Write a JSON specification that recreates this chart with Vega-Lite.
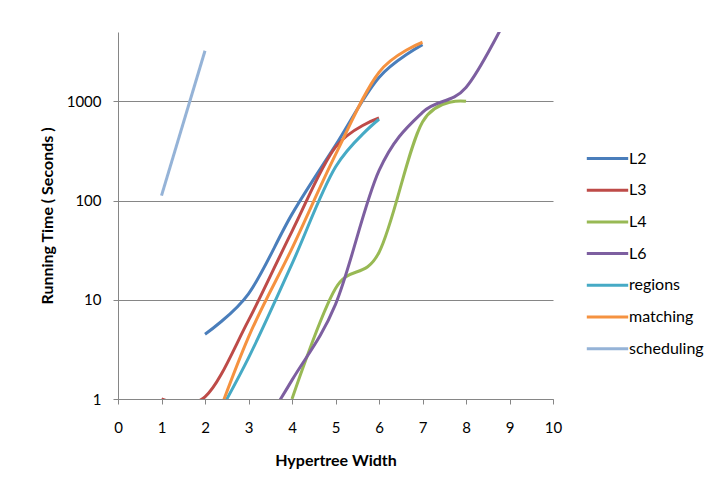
{
  "$schema": "https://vega.github.io/schema/vega-lite/v6.json",
  "autosize": {"type": "none"},
  "padding": {"left": 118, "top": 32, "right": 162, "bottom": 87},
  "width": 435,
  "height": 367,
  "background": "white",
  "config": {
    "font": "Lato",
    "view": {"stroke": null},
    "axis": {"labelFont": "Lato", "titleFont": "Lato", "labelColor": "#000000", "titleColor": "#000000", "labelFlush": false}
  },
  "data": {
    "values": [
      {"series": "L2", "width": 2, "time": 4.5},
      {"series": "L2", "width": 3, "time": 11.5},
      {"series": "L2", "width": 4, "time": 73},
      {"series": "L2", "width": 5, "time": 360},
      {"series": "L2", "width": 6, "time": 1740},
      {"series": "L2", "width": 7, "time": 3730},
      {"series": "L3", "width": 1, "time": 1},
      {"series": "L3", "width": 2, "time": 1.05},
      {"series": "L3", "width": 3, "time": 6.2},
      {"series": "L3", "width": 4, "time": 49},
      {"series": "L3", "width": 5, "time": 345},
      {"series": "L3", "width": 6, "time": 680},
      {"series": "L4", "width": 4, "time": 1},
      {"series": "L4", "width": 5, "time": 13},
      {"series": "L4", "width": 6, "time": 30},
      {"series": "L4", "width": 7, "time": 620},
      {"series": "L4", "width": 8, "time": 1000},
      {"series": "L6", "width": 3, "time": 0.3},
      {"series": "L6", "width": 4, "time": 1.55},
      {"series": "L6", "width": 5, "time": 9},
      {"series": "L6", "width": 6, "time": 200},
      {"series": "L6", "width": 7, "time": 775},
      {"series": "L6", "width": 8, "time": 1380},
      {"series": "L6", "width": 9, "time": 8000},
      {"series": "regions", "width": 2, "time": 0.4},
      {"series": "regions", "width": 3, "time": 2.6},
      {"series": "regions", "width": 4, "time": 23},
      {"series": "regions", "width": 5, "time": 218},
      {"series": "regions", "width": 6, "time": 660},
      {"series": "matching", "width": 2, "time": 0.3},
      {"series": "matching", "width": 3, "time": 4.2},
      {"series": "matching", "width": 4, "time": 33},
      {"series": "matching", "width": 5, "time": 290},
      {"series": "matching", "width": 6, "time": 1960},
      {"series": "matching", "width": 7, "time": 3940},
      {"series": "scheduling", "width": 1, "time": 112},
      {"series": "scheduling", "width": 2, "time": 3240}
    ]
  },
  "mark": {"type": "line", "interpolate": "cardinal", "tension": 0, "strokeWidth": 3, "clip": true},
  "encoding": {
    "x": {
      "field": "width", "type": "quantitative",
      "scale": {"domain": [0, 10], "nice": false, "zero": false},
      "axis": {
        "title": "Hypertree Width", "values": [0,1,2,3,4,5,6,7,8,9,10],
        "grid": false, "domainColor": "#868686", "tickColor": "#868686", "tickSize": 5,
        "labelFontSize": 15, "labelPadding": 16, "titleFontSize": 16, "titleFontWeight": "bold", "titlePadding": 17
      }
    },
    "y": {
      "field": "time", "type": "quantitative",
      "scale": {"type": "log", "domain": [1, 5000], "nice": false},
      "axis": {
        "title": "Running Time ( Seconds )", "values": [1, 10, 100, 1000], "format": "d",
        "grid": true, "gridColor": "#868686", "gridWidth": 1,
        "domainColor": "#868686", "tickColor": "#868686", "tickSize": 5,
        "labelFontSize": 15, "labelPadding": 12, "titleFontSize": 16, "titleFontWeight": "bold", "titlePadding": 11
      }
    },
    "color": {
      "field": "series", "type": "nominal",
      "scale": {
        "domain": ["L2", "L3", "L4", "L6", "regions", "matching", "scheduling"],
        "range": ["#4A7EBB", "#BE4B48", "#98B954", "#7D5FA0", "#46AAC5", "#F59240", "#95B3D7"]
      },
      "legend": {
        "title": null, "orient": "none", "legendX": 479, "legendY": 116,
        "symbolType": "M-2.3,0H2.3", "symbolSize": 324, "symbolStrokeWidth": 3,
        "labelFontSize": 16, "labelOffset": 11, "rowPadding": 12.7, "labelColor": "#000000"
      }
    }
  }
}
